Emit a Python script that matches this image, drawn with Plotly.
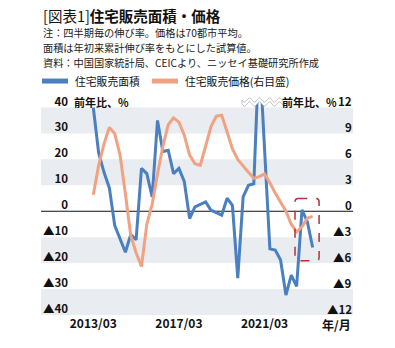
import math
import plotly.graph_objects as go

# ---------------- data ----------------
quarters = [f"{y}/{m:02d}" for y in range(2013, 2024) for m in (3, 6, 9, 12)][:42]

area_yoy = [40, 22.5, 15, 9, -5.4, -10.5, -15.8, -9, -11, 16.5,
            14.5, 5.5, 35, 23, 23.5, 14.5, 16.5, 11.5, -2.8, 1.7,
            2.8, 3.6, 0.4, -0.5, -1.5, 5, 2.3, -25.8, 5.5, 10,
            10.6, 63, 24, -14.5, -15, -18.8, -32.3, -24.6, -29, 0.5,
            -4, -14]

price_yoy = [1.9, 5.3, 7.8, 9.7, 9.0, 6.5, 2.0, -2.8, -4.8, -6.4,
             -1.5, 0.8, 4.3, 7.5, 10.0, 10.8, 10.3, 8.8, 6.5, 5.5,
             5.3, 7.5, 9.8, 11.0, 11.1, 9.2, 7.2, 6.0, 5.2, 4.5,
             3.8, 4.0, 4.3, 3.3, 2.1, 1.0, 0.0, -1.5, -2.4, -1.8,
             -0.8, -0.6]

left_ticks = [-40, -30, -20, -10, 0, 10, 20, 30, 40]
left_labels = ["▲40", "▲30", "▲20", "▲10", "0", "10", "20", "30", "40"]
right_ticks = [-12, -9, -6, -3, 0, 3, 6, 9, 12]
right_labels = ["▲12", "▲9", "▲6", "▲3", "0", "3", "6", "9", "12"]
x_tick_labels = ["2013/03", "2017/03", "2021/03"]
band_lows = [30, 10, -20, -40]

series_names = ["住宅販売面積", "住宅販売価格(右目盛)"]
title_text = "[図表1]<b>住宅販売面積・価格</b>"
notes = ["注：四半期毎の伸び率。価格は70都市平均。",
         "面積は年初来累計伸び率をもとにした試算値。",
         "資料：中国国家統計局、CEICより、ニッセイ基礎研究所作成"]

# ---------------- style ----------------
BLUE = "#4a7fc0"
ORANGE = "#f0a283"
BAND = "#e9ecf0"
BOXRED = "#b3323c"
FONT = "Noto Sans CJK JP"

W, H = 395, 348
L, R, T, B = 71, 40, 100.5, 33
PW, PH = W - L - R, H - T - B


def px(x):
    return (x - L) / PW


def py(y):
    return (H - B - y) / PH


idx = list(range(len(quarters)))
x_tick_vals = [quarters.index(t) for t in x_tick_labels]

fig = go.Figure()
fig.add_trace(go.Scatter(x=idx, y=area_yoy, mode="lines", name=series_names[0],
                         line=dict(color=BLUE, width=3), showlegend=False,
                         customdata=quarters, yaxis="y"))
fig.add_trace(go.Scatter(x=idx, y=price_yoy, mode="lines", name=series_names[1],
                         line=dict(color=ORANGE, width=3), showlegend=False,
                         customdata=quarters, yaxis="y2"))

shapes = []
for lo in band_lows:
    shapes.append(dict(type="rect", xref="paper", yref="y", x0=px(41), x1=px(353),
                       y0=lo, y1=lo + 10, fillcolor=BAND, line=dict(width=0),
                       layer="below"))
shapes.append(dict(type="line", xref="paper", yref="y", x0=px(41), x1=px(353),
                   y0=0, y1=0, line=dict(color="#111111", width=1.2), layer="below"))

# dashed rounded box around latest values
bx0, bx1, by0, by1 = 37.7, 42.2, -19.1, 4.9
rx, ry = 0.6, 1.3
box_path = (f"M {bx0+rx},{by1} L {bx1-rx},{by1} Q {bx1},{by1} {bx1},{by1-ry} "
            f"L {bx1},{by0+ry} Q {bx1},{by0} {bx1-rx},{by0} L {bx0+rx},{by0} "
            f"Q {bx0},{by0} {bx0},{by0+ry} L {bx0},{by1-ry} Q {bx0},{by1} {bx0+rx},{by1} Z")
shapes.append(dict(type="path", xref="x", yref="y", path=box_path,
                   line=dict(color=BOXRED, width=1.5, dash="dash")))

# axis-break wave mark
up, lo_ = [], []
for k in range(0, 42):
    xx = 242 + k
    up.append((px(xx), py(99.5 + 2.2 * math.sin(2 * math.pi * k / 10))))
    lo_.append((px(xx), py(103.5 + 2.2 * math.sin(2 * math.pi * k / 10))))
pts = up + lo_[::-1]
wave = "M " + " L ".join(f"{a:.5f},{b:.5f}" for a, b in pts) + " Z"
shapes.append(dict(type="path", xref="paper", yref="paper", path=wave,
                   fillcolor="white", line=dict(color="#b8b8b8", width=0.8),
                   layer="above"))

# legend swatches
shapes.append(dict(type="line", xref="paper", yref="paper", x0=px(42), x1=px(68),
                   y0=py(80.5), y1=py(80.5), line=dict(color=BLUE, width=5)))
shapes.append(dict(type="line", xref="paper", yref="paper", x0=px(152), x1=px(178),
                   y0=py(80.5), y1=py(80.5), line=dict(color=ORANGE, width=5)))

ann = []
ann.append(dict(text=title_text, x=px(41), y=py(15.0), xref="paper", yref="paper",
                xanchor="left", yanchor="middle", showarrow=False,
                font=dict(family=FONT, size=14.5, color="#111111")))
for t, yy in zip(notes, [31.9, 46.7, 61.5]):
    ann.append(dict(text=t, x=px(41), y=py(yy), xref="paper", yref="paper",
                    xanchor="left", yanchor="middle", showarrow=False,
                    font=dict(family=FONT, size=10.2, color="#222222")))
ann.append(dict(text=series_names[0], x=px(73), y=py(80.5), xref="paper", yref="paper",
                xanchor="left", yanchor="middle", showarrow=False,
                font=dict(family=FONT, size=10.8, color="#111111")))
ann.append(dict(text=series_names[1], x=px(183), y=py(80.5), xref="paper", yref="paper",
                xanchor="left", yanchor="middle", showarrow=False,
                font=dict(family=FONT, size=10.8, color="#111111")))
ann.append(dict(text="<b>前年比、%</b>", x=px(72), y=py(101.5), xref="paper", yref="paper",
                xanchor="left", yanchor="middle", showarrow=False,
                font=dict(family=FONT, size=11, color="#111111")))
ann.append(dict(text="<b>前年比、%</b>", x=px(339), y=py(101.5), xref="paper", yref="paper",
                xanchor="right", yanchor="middle", showarrow=False,
                font=dict(family=FONT, size=11, color="#111111")))
ann.append(dict(text="<b>年/月</b>", x=px(353), y=py(324.5), xref="paper", yref="paper",
                xanchor="right", yanchor="middle", showarrow=False,
                font=dict(family=FONT, size=12, color="#111111")))

tickfont = dict(family=FONT, size=11.5, color="#111111", weight="bold")

# right-axis tick labels (right-aligned inside the band area)
for v, t in zip(right_ticks, right_labels):
    ann.append(dict(text=t, x=px(353.5), y=v, xref="paper", yref="y2",
                    xanchor="right", yanchor="middle", yshift=6, showarrow=False,
                    font=tickfont))

fig.update_layout(
    width=W, height=H,
    margin=dict(l=L, r=R, t=T, b=B, pad=0),
    paper_bgcolor="white", plot_bgcolor="rgba(0,0,0,0)",
    showlegend=False,
    xaxis=dict(range=[-4.168, 48.91], tickmode="array", tickvals=x_tick_vals,
               ticktext=x_tick_labels, showgrid=False, zeroline=False, showline=False,
               ticks="", tickfont=dict(family=FONT, size=12, color="#111111", weight="bold")),
    yaxis=dict(range=[-40, 42.5], tickmode="array", tickvals=left_ticks,
               ticktext=left_labels, showgrid=False, zeroline=False, showline=False,
               ticks="", ticklabelshift=-6, ticklabelstandoff=2, tickfont=tickfont),
    yaxis2=dict(range=[-12, 12.75], overlaying="y", side="right", tickmode="array",
                tickvals=right_ticks, showticklabels=False, showgrid=False,
                zeroline=False, showline=False, ticks=""),
    shapes=shapes,
    annotations=ann,
)

fig.write_html("out.html")
